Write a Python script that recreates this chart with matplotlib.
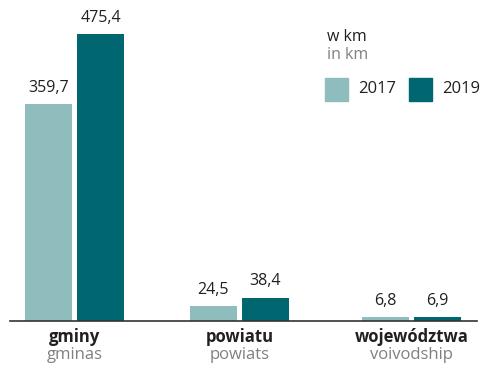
import matplotlib.pyplot as plt
from matplotlib.patches import Rectangle

# road lengths in km
categories_pl = ["gminy", "powiatu", "województwa"]
categories_en = ["gminas", "powiats", "voivodship"]
years = ["2017", "2019"]
values_2017 = [359.7, 24.5, 6.8]
values_2019 = [475.4, 38.4, 6.9]

LIGHT = "#8fbcbd"
DARK = "#00666f"
TXT = "#231f20"
GREY = "#808080"

W, H = 483, 365
plt.rcParams["font.family"] = ["Open Sans", "DejaVu Sans"]

fig = plt.figure(figsize=(W / 100, H / 100), dpi=100)
base = 44  # px from bottom
ax = fig.add_axes([0, base / H, 1, (H - base) / H])
ax.set_xlim(0, W)
ax.set_ylim(0, (H - base) / 0.6037)
ax.axis("off")

def fx(x, y):
    return (x / W, 1 - y / H)

centers = [74.5, 239.5, 411.5]
bw, off = 47, 26

for c, v17, v19 in zip(centers, values_2017, values_2019):
    for x, v, col in [(c - off, v17, LIGHT), (c + off, v19, DARK)]:
        ax.bar(x, v, width=bw, color=col)
        ax.annotate(f"{v:.1f}".replace(".", ","), (x, v), xytext=(0, 6),
                    textcoords="offset points", ha="center", va="bottom",
                    fontsize=11.5, color=TXT)

# baseline
ax.plot([10, 477], [0, 0], color="#333333", lw=1.2, clip_on=False)

for c, pl, en in zip(centers, categories_pl, categories_en):
    fig.text(*fx(c, 337), pl, ha="center", va="center", fontsize=12,
             fontweight="bold", color=TXT)
    fig.text(*fx(c, 355), en, ha="center", va="center", fontsize=12,
             color=GREY)

# legend
fig.text(*fx(327, 37), "w km", ha="left", va="center", fontsize=11.5, color=TXT)
fig.text(*fx(327, 55), "in km", ha="left", va="center", fontsize=11.5, color=GREY)
for x0, tx, col, lab in [(325, 358, LIGHT, years[0]), (409, 442, DARK, years[1])]:
    fig.add_artist(Rectangle(fx(x0, 101), 23 / W, 23 / H, color=col,
                             transform=fig.transFigure))
    fig.text(*fx(tx, 89), lab, ha="left", va="center", fontsize=12, color=TXT)

fig.savefig("out.png", dpi=100)
